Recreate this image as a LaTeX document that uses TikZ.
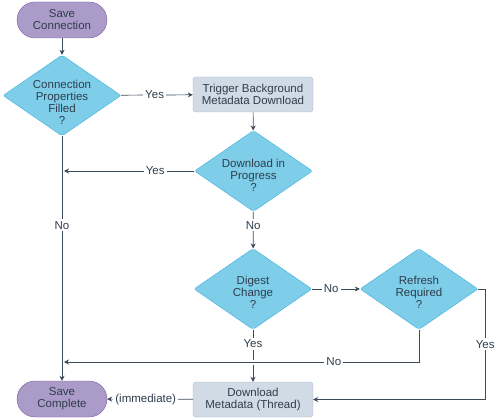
\documentclass[tikz,border=0pt]{standalone}
\usepackage{fontspec}
\setmainfont{Liberation Sans}
\usepackage{tikz}
\usetikzlibrary{shapes.geometric,arrows.meta}

\definecolor{termfill}{HTML}{AB9BC8}
\definecolor{termdraw}{HTML}{7D5C9E}
\definecolor{stepfill}{HTML}{D0DBE6}
\definecolor{stepdraw}{HTML}{A9B8C5}
\definecolor{askfill}{HTML}{7ECDE9}
\definecolor{askdraw}{HTML}{3FB0DF}
\definecolor{inktext}{HTML}{2F3D4C}
\definecolor{inkline}{HTML}{3C4A5A}

\begin{document}
\begin{tikzpicture}[x=1pt, y=-1pt,
  every node/.style = {font=\fontsize{11.5}{12}\selectfont, text=inktext},
  term/.style = {draw=termdraw, fill=termfill, rounded corners=18pt, minimum width=90pt, minimum height=36pt, align=center, inner sep=0pt},
  stepbox/.style = {draw=stepdraw, fill=stepfill, rounded corners=3pt, minimum width=120pt, minimum height=35pt, align=center, inner sep=0pt},
  ask/.style = {draw=askdraw, fill=askfill, diamond, minimum width=118pt, minimum height=81pt, inner sep=0pt, rounded corners=2pt},
  asktext/.style = {align=center, inner sep=0pt},
  link/.style = {draw=inkline, line width=0.7pt},
  tip/.style = {-{Stealth[length=5pt, width=5pt]}},
  tag/.style = {fill=white, inner sep=2pt}]

\useasboundingbox (0,0) rectangle (495,419);

%% nodes
\node[term] (save) at (62, 20) {Save\\Connection};
\node[ask, label={[asktext, yshift=-7pt]center:Connection\\Properties\\Filled\\?}] (filled) at (62, 95.5) {};
\node[stepbox] (trigger) at (253, 94.5) {Trigger Background\\Metadata Download};
\node[ask, label={[asktext, yshift=-4pt]center:Download in\\Progress\\?}] (progress) at (253.5, 171) {};
\node[ask, label={[asktext, yshift=-3pt]center:Digest\\Change\\?}] (digest) at (253, 289) {};
\node[ask, label={[asktext, yshift=-3pt]center:Refresh\\Required\\?}] (refresh) at (419, 289) {};
\node[stepbox] (fetch) at (253, 399.5) {Download\\Metadata (Thread)};
\node[term] (done) at (62, 399) {Save\\Complete};

%% join points on the left trunk
\coordinate (busy) at (64, 171);
\coordinate (stale) at (64, 362);

%% edges
\draw[link, tip] (save) -- (filled);
\draw[link, tip] (filled) -- node[tag, pos=0.47] {Yes} (trigger);
\draw[link, tip] (trigger) -- (progress);
\draw[link, tip] (progress) -- node[tag, pos=0.3] {Yes} (busy);
\draw[link, tip] (filled) -- node[tag, pos=0.365] {No} (done);
\draw[link, tip] (progress) -- node[tag, pos=0.37] {No} (digest);
\draw[link, tip] (digest) -- node[tag, pos=0.4] {No} (refresh);
\draw[link, tip] (digest) -- node[tag, pos=0.27] {Yes} (fetch);
\draw[link, tip, preaction={draw=white, line width=5pt}] (refresh.south) |- node[tag, pos=0.62] {No} (stale);
\draw[link, tip] (refresh.east) -- ++(7,0) |- node[tag, pos=0.25] {Yes} (fetch.east);
\draw[link, tip] (fetch) -- node[tag, pos=0.55] {(immediate)} (done);

\end{tikzpicture}
\end{document}
